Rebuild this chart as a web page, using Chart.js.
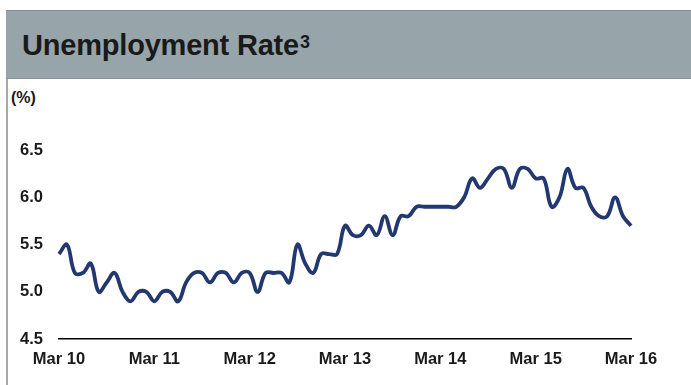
<!DOCTYPE html>
<html>
<head>
<meta charset="utf-8">
<script src="https://cdn.jsdelivr.net/npm/chart.js@4.4.1/dist/chart.umd.min.js"></script>
<style>
  html, body { margin: 0; padding: 0; background: #fff; }
  #panel { position: relative; width: 691px; height: 385px; overflow: hidden; font-family: "Liberation Sans", Arial, sans-serif; }
  #frame { position: absolute; left: 6px; top: 10px; width: 700px; height: 400px; border-left: 2px solid #a3abb0; }
  #header { position: absolute; left: 6px; top: 10px; width: 700px; height: 67px; background: #97a4aa; border-top: 1px solid #7f8b91; border-bottom: 1px solid #8a969c; }
  #title { position: absolute; left: 22px; top: 28px; font-size: 29px; line-height: 34px; font-weight: bold; color: #1a1a1a; letter-spacing: -0.2px; }
  #title sup { font-size: 18px; vertical-align: top; position: relative; top: -3px; margin-left: 1px; }
  #unit { position: absolute; left: 11px; top: 89px; font-size: 16px; font-weight: bold; color: #1a1a1a; }
  #wrap { position: absolute; left: 0; top: 80px; width: 691px; height: 305px; }
</style>
</head>
<body>
<div id="panel">
  <div id="frame"></div>
  <div id="header"></div>
  <div id="title">Unemployment Rate<sup>3</sup></div>
  <div id="unit">(%)</div>
  <div id="wrap"><canvas id="myChart"></canvas></div>
</div>
<script>
document.addEventListener("DOMContentLoaded", function () {
  "use strict";
  // Month labels Mar 10 .. Mar 16
  const months = ["Jan", "Feb", "Mar", "Apr", "May", "Jun", "Jul", "Aug", "Sep", "Oct", "Nov", "Dec"];
  const monthLabels = [];
  for (let i = 0; i < 73; i++) {
    const m = (2 + i) % 12;
    const yr = 10 + Math.floor((2 + i) / 12);
    monthLabels.push(months[m] + " " + yr);
  }

  // Monthly unemployment rate
  const rate2010 = [5.4, 5.5, 5.2, 5.2, 5.3, 5.0, 5.1, 5.2, 5.0, 4.9];      // Mar-Dec 10
  const rate2011 = [5.0, 5.0, 4.9, 5.0, 5.0, 4.9, 5.1, 5.2, 5.2, 5.1, 5.2, 5.2];
  const rate2012 = [5.1, 5.2, 5.2, 5.0, 5.2, 5.2, 5.2, 5.1, 5.5, 5.3, 5.2, 5.4];
  const rate2013 = [5.4, 5.4, 5.7, 5.6, 5.6, 5.7, 5.6, 5.8, 5.6, 5.8, 5.8, 5.9];
  const rate2014 = [5.9, 5.9, 5.9, 5.9, 5.9, 6.0, 6.2, 6.1, 6.2, 6.3, 6.3, 6.1];
  const rate2015 = [6.3, 6.3, 6.2, 6.2, 5.9, 6.0, 6.3, 6.1, 6.1, 5.9, 5.8, 5.8];
  const rate2016 = [6.0, 5.8, 5.7];                                          // Jan-Mar 16
  const rates = [].concat(rate2010, rate2011, rate2012, rate2013, rate2014, rate2015, rate2016);

  const yTicks = [4.5, 5.0, 5.5, 6.0, 6.5];
  const textColor = "#1a1a1a";
  const tickFont = { family: "'Liberation Sans', Arial, sans-serif", size: 16.5, weight: "bold" };

  const ctx = document.getElementById("myChart");
  new Chart(ctx, {
    type: "line",
    data: {
      labels: monthLabels,
      datasets: [
        {
          label: "Unemployment Rate",
          data: rates,
          borderColor: "#22386f",
          borderWidth: 3.8,
          pointRadius: 0,
          tension: 0.4,
          fill: false,
        },
      ],
    },
    options: {
      responsive: true,
      maintainAspectRatio: false,
      animation: false,
      layout: { padding: { left: 0, right: 60, top: 70, bottom: 6 } },
      plugins: { legend: { display: false }, tooltip: { enabled: false } },
      scales: {
        x: {
          offset: false,
          grid: { display: false, drawTicks: false },
          border: { display: true, color: "#000", width: 1.5 },
          ticks: {
            autoSkip: false,
            maxRotation: 0,
            padding: 10,
            color: textColor,
            font: tickFont,
            callback: function (val, idx) {
              return idx % 12 === 0 ? monthLabels[idx] : null;
            },
          },
        },
        y: {
          min: 4.5,
          max: 6.5,
          afterFit: function (scale) { scale.width = 59; },
          afterBuildTicks: function (scale) {
            scale.ticks = yTicks.map((v) => ({ value: v }));
          },
          grid: { display: false, drawTicks: false },
          border: { display: false },
          ticks: {
            padding: 16,
            color: textColor,
            font: tickFont,
            callback: (v) => v.toFixed(1),
          },
        },
      },
    },
  });
});
</script>
</body>
</html>
